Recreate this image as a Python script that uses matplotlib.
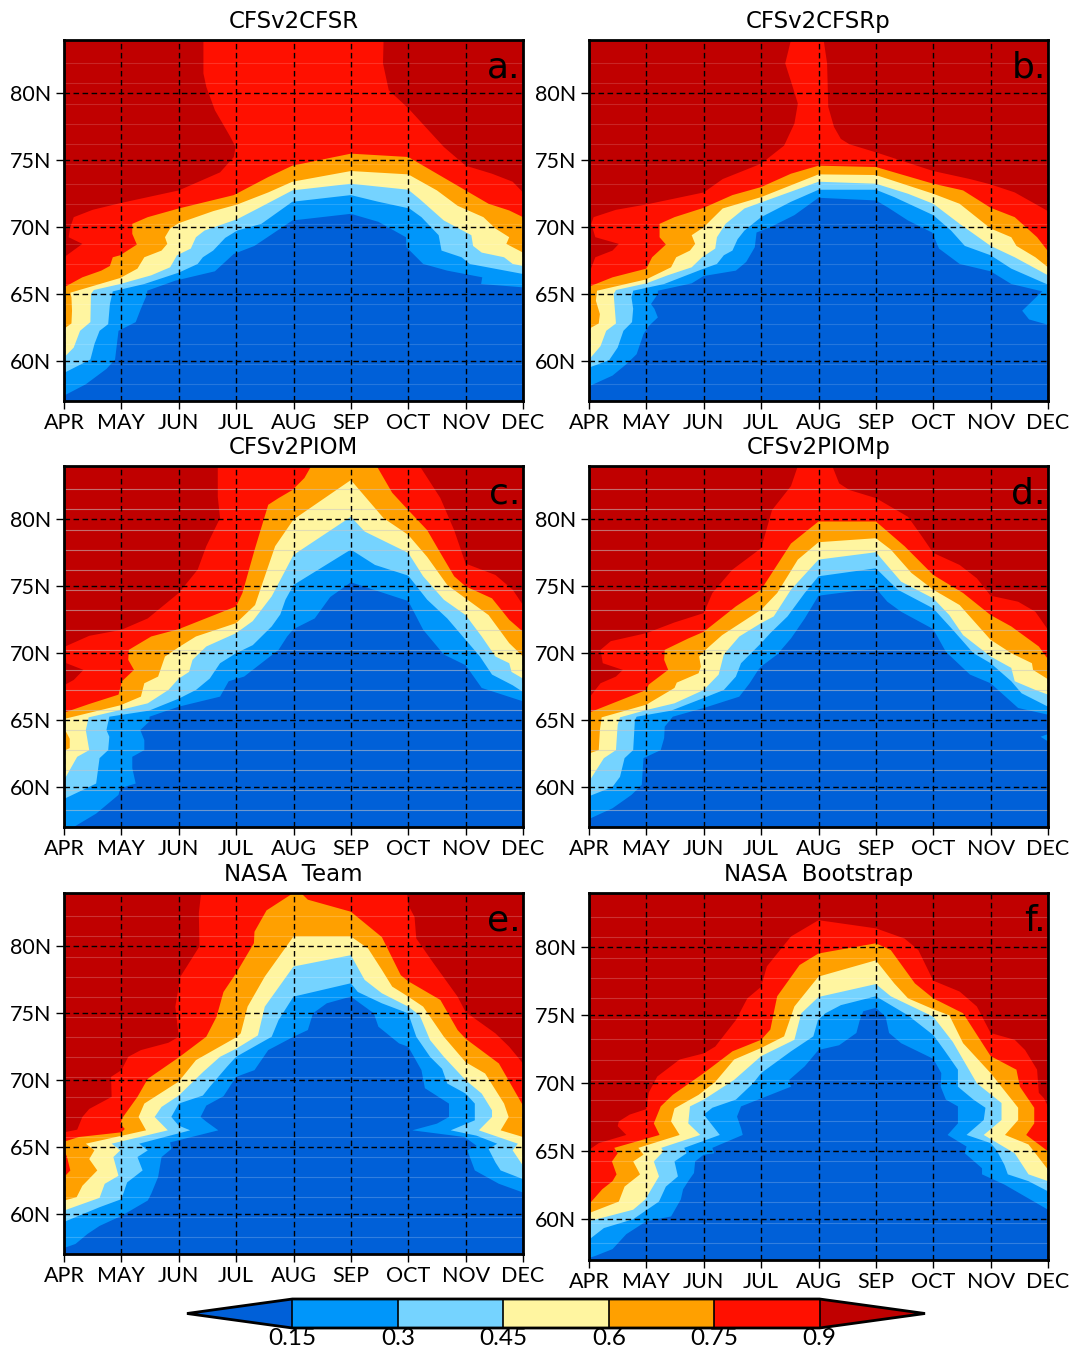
import matplotlib
matplotlib.use('Agg')
import matplotlib.pyplot as plt
from matplotlib.cm import ScalarMappable
from matplotlib.colors import ListedColormap, BoundaryNorm

# contour lines, as (month since APR, latitude)
# panel a
a_15 = [(0,57.4),(.38,58.25),(.74,59.4),(.89,60.1),(.95,62.25),(1.25,62.9),(1.34,63.9),(1.45,65),(1.45,65.25),(1.94,66),(2.63,66.7),(2.96,68),(3.32,68.6),(3.98,70.5),(5,71),(5.48,70.4),(5.96,69.25),(5.97,68.5),(6.26,67.25),(6.68,66.75),(7.29,66.25),(7.27,65.75),(8,65.5)]
a_30 = [(0,59.1),(.46,60.1),(.53,61.25),(.62,62.25),(.77,62.75),(.8,64.25),(.85,65.2),(1.4,65.75),(2,66.6),(2.33,67.25),(2.42,67.75),(2.6,68.25),(2.81,69.2),(3.02,69.75),(3.44,70.25),(3.98,71.9),(5,72.4),(5.48,71.9),(6.02,71.4),(6.23,70.75),(6.53,69.4),(6.58,68.25),(6.93,67.75),(7.07,67.25),(8,66.5)]
a_45 = [(0,60.25),(.17,61),(.28,62.25),(.46,62.9),(.47,65),(.52,65.3),(.98,65.75),(1.52,66.4),(1.85,67),(1.97,67.9),(2.21,68.4),(2.3,69.25),(2.45,69.75),(3.02,70.6),(3.38,71.4),(3.98,72.75),(5,73.25),(6,72.8),(6.2,72.1),(6.62,70.5),(7.1,69.4),(7.13,68.6),(7.28,68.1),(7.67,67.75),(7.82,67.25),(8,67.1)]
a_60 = [(0,62.4),(.13,62.8),(.14,63.75),(.13,64.75),(.11,65.1),(.98,66.2),(1.28,66.9),(1.4,67.75),(1.7,68.25),(1.8,68.75),(1.76,69.25),(1.85,69.9),(2,70.3),(2.6,71.2),(3.02,71.7),(3.56,72.6),(3.98,73.4),(5,74.2),(6,73.95),(6.5,72.75),(6.86,71.6),(7.31,70.75),(7.52,69.9),(7.76,69.25),(7.71,68.75),(8,68.1)]
a_75 = [(0,65.5),(.32,66.25),(.65,66.75),(.8,67.1),(.85,67.75),(.98,67.9),(1.27,68.7),(1.19,69.5),(1.19,70.25),(1.46,70.75),(2,71.4),(2.96,72.4),(3.56,73.75),(3.98,74.6),(5,75.5),(6,75.25),(7,72.75),(7.4,71.75),(7.76,71.25),(8,70.75)]
a_90_left = [(0,67.75),(.32,68.75),(.08,69.25),(.11,70),(.17,70.75),(.5,71.3),(.98,71.8),(2,72.75),(2.72,74.1),(2.96,75.25),(2.99,76),(2.9,76.75),(2.63,78.75),(2.48,80.5),(2.43,81.5),(2.43,84)]
a_90_right = [(5.57,84),(5.56,82.25),(5.66,80.25),(6,78.9),(6.62,76),(7,74.6),(7.46,74),(7.82,73.4),(8,72.6)]

# panel b
b_15 = [(0,58.1),(.41,58.9),(.65,59.75),(.83,60.5),(.95,62),(1.04,62.6),(1.2,63.25),(1.14,63.9),(1.08,64.25),(1.2,65),(1.2,65.25),(1.79,65.8),(2,66.35),(2.56,66.75),(2.74,67.4),(2.89,68.5),(2.92,69.6),(3.16,70),(3.58,70.9),(4,72.2),(5,72),(5.2,71.5),(5.56,70.5),(5.98,69.6),(6.1,68.4),(6.46,67.25),(7,66.7),(7.36,65.75),(7.9,65.2),(7.55,63.75),(7.67,63.1),(8,62.7)]
b_30 = [(0,59.5),(.35,60.05),(.5,61),(.6,62.25),(.75,62.9),(.77,63.9),(.74,64.75),(.77,65.25),(1.31,65.75),(2,66.9),(2.23,67.25),(2.35,67.9),(2.5,68.25),(2.59,69.1),(2.71,69.75),(3,70.75),(3.52,71.9),(4,72.8),(5,72.8),(5.32,72.25),(6,70.9),(6.31,69.75),(6.55,68.6),(7,67.9),(7.36,66.9),(8,65.7)]
b_45 = [(0,60.1),(.2,61.1),(.3,62.25),(.47,62.8),(.43,65),(.47,65.3),(1,65.8),(1.37,66.4),(1.79,67),(1.97,67.75),(2.2,68.4),(2.23,69.25),(2.38,70.25),(2.71,71.4),(3.16,72.1),(4,73.4),(5,73.25),(5.56,72.5),(6,71.75),(6.46,70.25),(7,68.6),(7.42,67.75),(8,66.4)]
b_60 = [(0,62.4),(.17,62.8),(.19,63.5),(.12,64.5),(.14,65.25),(1,66.1),(1.43,67),(1.52,67.75),(1.76,68.25),(1.85,68.75),(1.79,69.4),(2,70),(2.33,71.4),(3,72.25),(4,73.95),(5,73.9),(6,72.5),(6.46,71.75),(7,69.9),(7.36,69.25),(7.45,68.6),(7.78,67.75),(8,67)]
b_75 = [(0,65.55),(.41,66.25),(1,66.9),(1.1,67.75),(1.34,68.7),(1.23,69.25),(1.23,70.25),(1.49,70.75),(2,71.45),(2.5,72.4),(3,73),(3.52,74),(4,74.6),(5,74.5),(6,73.25),(6.52,72.75),(7,71.45),(7.42,70.75),(7.81,69.25),(8,68.2)]
b_90_left = [(0,66.5),(.11,67.75),(.41,68.25),(.52,68.75),(.11,69.25),(.04,70.25),(.08,70.75),(.47,71.3),(1,71.7),(2,72.6),(2.33,73.6),(3,74.75),(3.4,76.1),(3.58,77.75),(3.64,79.25),(3.55,80.5),(3.42,82.25),(3.52,84)]
b_90_right = [(4.09,84),(4.15,82.25),(4.17,79),(4.27,77.5),(4.39,76.6),(4.54,76.2),(5,75.6),(6,74.2),(6.64,73.6),(7,73.2),(7.42,72.6),(8,71.2)]

# panel c
c_15 = [(0,57),(.17,57),(.56,58),(.95,59.4),(.98,59.9),(1.25,60.25),(1.19,61.4),(1.19,62.25),(1.4,62.75),(1.4,63.5),(1.33,64.25),(1.49,64.9),(1.49,65.25),(2,66),(2.72,66.75),(2.87,67.9),(3.14,68.25),(3.74,70.25),(3.89,71.25),(4,71.8),(4.37,72.6),(4.64,74.2),(5,75.3),(6,73.9),(6.26,71.75),(6.62,69.9),(7,69.1),(7.28,67.4),(8,66.4)]
c_30 = [(0,59.1),(.44,60),(.56,60.25),(.62,62.15),(.77,62.75),(.79,63.75),(.74,64.25),(.79,65.25),(1.48,65.7),(2,66.6),(2.3,67.25),(2.54,68.1),(2.72,69.25),(3,70),(3.29,70.6),(3.62,72),(3.77,72.9),(3.86,74),(4,75.1),(5,77.75),(5.42,76.6),(6,75.8),(6.33,74),(6.68,72.6),(7,71),(7.25,69.75),(7.46,68.4),(7.82,67.6),(8,67.1)]
c_45 = [(0,60.5),(.23,62.25),(.44,62.75),(.38,64.25),(.43,65.2),(.98,65.75),(1.46,66.25),(1.82,67.25),(2,68.1),(2.18,68.6),(2.24,69.5),(2.48,70.5),(3,71.5),(3.29,72.4),(3.62,74.25),(4,77.35),(5,80.2),(5.24,79.1),(6,77.5),(6.26,75.75),(6.62,74),(7,72.85),(7.28,71.25),(7.52,69.75),(7.76,69.25),(7.8,68.6),(8,68.1)]
c_60 = [(0,62.7),(.1,62.9),(.1,63.6),(.02,64.25),(.02,65.1),(.98,66.1),(1.34,66.75),(1.4,67.75),(1.64,68.25),(1.7,69),(1.76,69.75),(2,70.45),(2.3,71.25),(3,72.25),(3.33,73.6),(3.44,75),(3.68,78),(4,80),(5,82.95),(5.57,80.1),(6,78.85),(6.33,77.2),(6.68,75.1),(7,74.1),(7.4,72.85),(7.76,70.75),(8,69.75)]
c_75_left = [(0,65.55),(.44,66.2),(.95,66.9),(1.01,67.9),(1.22,68.75),(1.12,69.5),(1.13,70.25),(1.52,71.25),(2,71.8),(3,73.5),(3.11,74.5),(3.32,77.7),(3.56,81.1),(3.74,81.6),(3.98,82.2),(4.19,83.1),(4.31,84)]
c_75_right = [(5.45,84),(5.72,82),(6,80.7),(6.33,79.2),(6.56,77.5),(6.8,75.75),(7,75),(7.46,74.1),(7.76,72.5),(8,71.6)]
c_90_left = [(0,67.6),(.17,68),(.34,68.75),(.04,69.25),(.02,70.5),(.44,71.3),(1,71.75),(1.46,72.6),(2,74.5),(2.33,76.25),(2.48,78),(2.72,80.1),(2.68,81.7),(2.68,84)]
c_90_right = [(6.2,84),(6.56,81.6),(6.8,79.2),(7,76.7),(7.52,75.85),(7.82,74.75),(8,73.6)]

# panel d
d_15 = [(0,57.6),(.41,58.4),(.74,59.4),(.92,60.15),(.95,62.15),(1.25,62.75),(1.31,63.65),(1.32,64.5),(1.46,65.25),(2,65.9),(2.62,66.75),(2.8,67.75),(2.95,68.75),(3,69),(3.28,69.9),(3.52,71.1),(3.76,72.6),(4,74.3),(5,74.85),(5.2,73.85),(5.44,73.1),(6,71.8),(6.22,70.1),(6.64,68.4),(7,67.75),(7.48,65.9),(8,65.4)]
d_15_pocket = [(8,63.95),(7.87,63.75),(8,63.4)]
d_30 = [(0,59.3),(.41,60),(.54,60.75),(.62,62.15),(.77,62.75),(.8,65),(.83,65.25),(1.43,65.7),(2,66.65),(2.35,67.25),(2.56,68.25),(2.65,69.25),(3,70.75),(3.16,71.5),(3.46,72.75),(3.76,74.5),(4,75.75),(5,76.35),(5.38,74.75),(6,73.35),(6.34,71.75),(6.7,70),(7,69.25),(7.36,67.9),(7.54,67),(8,66)]
d_45 = [(0,60.4),(.26,62.15),(.47,62.75),(.5,64.65),(.54,65.2),(1,65.75),(1.49,66.25),(2,67.25),(2.26,68.4),(2.35,69.9),(2.62,71.25),(3,72.25),(3.22,72.75),(3.52,74.75),(4,77),(5,77.55),(5.44,75.35),(6,74.1),(6.28,72.85),(6.52,71.35),(7,69.75),(7.36,68.9),(7.42,67.9),(7.78,67.25),(8,66.9)]
d_60 = [(0,62.5),(.17,62.75),(.19,64.25),(.22,65.2),(1,66.15),(1.49,67.4),(1.53,67.8),(1.91,68.5),(1.95,69),(1.92,69.75),(2.03,70.25),(2.32,71.35),(3,73.25),(3.28,74.5),(3.64,77),(4,78.3),(5,78.6),(5.26,77.75),(5.62,76),(6,74.75),(6.46,73.6),(7,71),(7.36,70),(7.72,69.25),(7.74,68.75),(8,68.05)]
d_75 = [(0,65.55),(.41,66.25),(1,67.25),(1.04,67.65),(1.38,68.75),(1.31,69.5),(1.32,70.25),(1.73,71.1),(2,71.6),(2.56,73.5),(3,74.75),(3.52,78.2),(4,79.85),(5,79.85),(5.5,78),(6,75.85),(6.52,74.5),(7,72.85),(7.36,72),(7.84,70.5),(8,69.55)]
d_90_left = [(0,66.65),(.2,67.75),(.47,68.25),(.59,68.75),(.24,69.25),(.2,70.25),(.38,70.9),(1,71.5),(1.49,72.3),(2,73),(2.15,74.5),(2.5,76.25),(3,77.85),(3.19,80.7),(3.52,82.5),(3.64,84)]
d_90_right = [(4.24,84),(4.36,82.7),(4.54,82.2),(5,81.6),(5.56,80.2),(5.8,78.75),(6,77.5),(6.46,76.6),(6.76,75.6),(7,74.3),(7.48,73.85),(7.78,73.1),(8,71.75)]

# panel e
e_15 = [(0,57.45),(.2,57.75),(.41,58.5),(.62,59.1),(1,59.85),(1.46,61),(1.52,61.5),(1.64,62.75),(1.7,64.25),(1.87,64.85),(1.85,65.35),(2.69,66.25),(2.48,66.9),(2.38,67.25),(2.48,68.1),(2.78,68.8),(3,70.25),(3.32,70.75),(3.56,72.25),(4,73.25),(4.25,73.75),(4.34,75),(4.58,75.75),(5,76.25),(5.4,75),(5.48,74),(5.84,72.75),(6,72.5),(6.23,70.75),(6.29,69.4),(6.71,68.25),(6.71,67.25),(6.5,66.75),(6.07,66.25),(6.98,65.75),(7.19,65.1),(7.03,64.75),(7.16,63.25),(7.58,62.25),(8,61.6)]
e_30 = [(0,59.4),(.62,60.5),(1,61.1),(1.1,62.35),(1.37,63.25),(1.28,64.25),(1.46,64.75),(1.31,65.25),(2.2,66.25),(2,66.6),(1.87,67.25),(2,68.25),(2.42,68.85),(2.54,69.5),(2.84,71),(3,71.75),(3.62,73.25),(3.74,74.5),(4,76.25),(5,77.25),(5.12,76.6),(5.54,75.75),(6,75),(6.14,73.25),(6.38,71.75),(6.59,70.85),(6.68,69.75),(7,69),(7.16,68.25),(7.16,67),(6.74,66.25),(7.19,65.85),(7.55,65.25),(7.4,64.85),(7.52,63.85),(7.61,63.25),(8,62.6)]
e_45 = [(0,60.25),(.62,61.2),(.71,62.25),(.95,62.85),(.86,64.25),(.98,64.75),(.83,65.25),(1.81,66.25),(1.58,67.25),(1.7,68),(2,68.85),(2.42,70.6),(2.72,71.75),(3,72.35),(3.38,73.35),(3.5,75.5),(4,78.5),(5,79.35),(5.24,77.5),(5.54,76.5),(6,75.5),(6.2,74.85),(6.38,73),(6.62,71.75),(7,70),(7.28,69),(7.46,67.75),(7.46,67.25),(7.23,66.25),(7.91,65.25),(7.82,64.75),(8,63.6)]
e_60 = [(0,61),(.22,61.25),(.32,62.1),(.58,63.25),(.44,64.1),(.53,64.75),(.38,65.25),(1.43,66.25),(1.3,67.25),(1.4,68.25),(2,69.9),(2.3,71.5),(3,73.2),(3.08,73.5),(3.2,75.5),(3.5,77.75),(4,80.75),(5,80.75),(5.3,79.85),(5.54,78.25),(5.72,77),(6,76.25),(6.26,75.5),(6.62,73.25),(7,71.35),(7.34,70.5),(7.67,68.25),(7.75,67.25),(7.61,66.25),(8,65.75)]
e_75 = [(0,65.4),(.26,65.75),(1,66.1),(1.06,66.35),(.98,66.75),(1.03,67.25),(1.28,68.75),(1.46,70.1),(2,71.7),(2.48,73.25),(2.66,74.75),(2.78,76.6),(3,78),(3.31,80.25),(3.32,81.1),(3.53,82.7),(3.89,83.7),(4,84),(4.13,84),(4.25,83.5),(5,82.6),(5.54,80.7),(5.87,77.85),(6,77.4),(6.56,76),(6.86,73.75),(7,73.1),(7.58,71.25),(8,68.1)]
e_75_pocket = [(0,64.75),(.05,64.3),(.11,63.25),(0,62.75)]
e_90_left = [(0,66.1),(.23,66.3),(.32,67.25),(.44,67.85),(.83,68.75),(.82,70.25),(1,70.75),(1.12,71.75),(1.34,72.25),(1.82,72.8),(2,73.25),(1.94,75.5),(2.03,77.75),(2.36,80),(2.35,82.5),(2.39,84)]
e_90_right = [(5.98,84),(6,83.1),(6.11,82.2),(6.14,80.6),(6.44,78.75),(6.86,76.25),(7,75.1),(7.52,73.5),(7.76,72.5),(8,71.25)]

# panel f
f_15 = [(0,57.15),(.11,57.3),(.41,57.8),(.65,58.9),(1,59.85),(1.43,60.2),(1.6,61.45),(1.64,62.2),(1.73,62.8),(1.83,63.4),(1.85,64.25),(2,64.75),(2.18,64.85),(2.15,65.25),(2.68,66.2),(2.65,66.7),(2.58,67.55),(2.65,68.3),(3.52,69.75),(3.49,70.25),(3.76,71.25),(4,72.45),(4.36,72.8),(4.66,73.7),(4.72,74.65),(4.78,75.3),(5,75.55),(5.17,74.9),(5.23,73.7),(5.44,72.95),(6,71.8),(6.14,70.75),(6.13,69.75),(6.22,68.8),(6.43,68.3),(6.43,67.05),(6.25,66.2),(6.58,65.35),(6.55,64.85),(6.85,63.75),(6.85,63.3),(7.24,62.55),(8,60.7)]
f_30 = [(0,58.5),(.26,59.35),(.77,60),(1.22,61.3),(1.34,62.4),(1.55,63.15),(1.49,64.25),(1.7,64.85),(1.66,65.25),(2.28,66.2),(2,67.7),(2.15,68.2),(2.56,68.8),(2.86,70),(3,70.75),(3.52,72.35),(3.91,73.45),(3.99,74.65),(4.12,75.15),(4.39,75.75),(5,76.4),(5.56,75),(6,73.55),(6.19,72.45),(6.43,71),(6.43,69.75),(6.7,68.8),(6.91,68.2),(6.88,67.3),(6.58,66.2),(7,65.6),(7.1,65.1),(7.24,64),(7.3,63.3),(7.66,62.8),(8,62.05)]
f_45 = [(0,59.85),(.77,60.7),(.98,61.45),(1.22,63.15),(1.13,64.25),(1.3,65),(1.26,65.25),(1.94,66.2),(1.73,67.05),(1.76,68.3),(2,68.8),(2.53,70.25),(3,72),(3.58,73.2),(3.7,75.15),(4,76.35),(5,77.3),(5.26,76.4),(6,74.9),(6.34,73.05),(6.76,70),(7.19,68.55),(7.19,67.3),(6.88,66.2),(7.42,64.85),(7.66,63.3),(8,62.8)]
f_60 = [(0,60.45),(.52,61.3),(.62,62.4),(.89,63.3),(.77,64.25),(.95,64.75),(.86,65.25),(1.58,66.2),(1.43,67.2),(1.49,68.15),(1.91,69.15),(2.2,70.1),(2.53,71.75),(3,72.6),(3.4,73.45),(3.58,75.65),(4,77.85),(5,79.05),(5.32,77.35),(5.56,76.25),(6,75.45),(6.28,75),(6.52,72.95),(7,70.75),(7.48,68.2),(7.48,67.3),(7.25,66.2),(7.66,65.5),(8,63.65)]
f_75 = [(0,61.1),(.23,62.2),(.41,62.8),(.48,63.3),(.4,64.25),(.5,64.85),(.44,65.25),(1.23,66.2),(1.13,67.05),(1.25,68.3),(1.46,69.15),(2,70.75),(2.5,72.35),(3,73.2),(3.16,73.95),(3.28,76.4),(3.67,78.7),(4,79.55),(5,80.3),(5.26,79.8),(5.68,77.35),(6,76.25),(6.52,75.15),(7,72),(7.45,71),(7.51,69.75),(7.76,68.2),(7.76,67.05),(7.62,66.2),(8,65)]
f_90 = [(0,65.1),(.17,65.6),(.65,66.2),(.5,66.85),(.52,67.2),(.71,67.7),(1,68.1),(1.04,69.3),(1.19,70.5),(1.58,71.75),(2,72.2),(2.2,72.7),(2.56,74.65),(2.76,76.25),(3,77.1),(3.1,78.6),(3.52,80.8),(4,82),(5,81.4),(5.5,80.65),(5.74,79.8),(6,77.55),(6.46,76.75),(6.76,75.65),(7,73.7),(7.42,73.2),(7.6,72.45),(7.81,71),(7.84,69.3),(7.93,68.9),(8,68.3)]

months = ['APR', 'MAY', 'JUN', 'JUL', 'AUG', 'SEP', 'OCT', 'NOV', 'DEC']
lat_ticks = [60, 65, 70, 75, 80]
lat_labels = ['60N', '65N', '70N', '75N', '80N']
levels = [0.15, 0.3, 0.45, 0.6, 0.75, 0.9]
level_labels = ['0.15', '0.3', '0.45', '0.6', '0.75', '0.9']
colors = ['#0060D8', '#0096FA', '#75D3FF', '#FFF5A0', '#FFA000', '#FF1000', '#C00000']
# pale lines left by the coarse latitude grid
grid_lats = [58.25, 59.75, 61.25, 62.75, 64.25, 65.75, 67.25, 68.75, 70.25, 71.75, 73.25, 74.75, 76.25, 77.75, 79.25, 80.75, 82.25]

W, H = 1069, 1351
TOP_LAT = 84
BOTTOM_LAT = 57

plt.rcParams['font.family'] = ['Lato', 'DejaVu Sans']
fig = plt.figure(figsize=(W / 100, H / 100), dpi=100)


def px_axes(left, top, right, bottom):
    return fig.add_axes([left / W, 1 - bottom / H, (right - left) / W, (bottom - top) / H])


def fill_above(ax, line, color):
    # region between a contour line and the top of the axes
    xs = [p[0] for p in line] + [line[-1][0], line[0][0]]
    ys = [p[1] for p in line] + [TOP_LAT + 1, TOP_LAT + 1]
    ax.fill(xs, ys, color=color, lw=0, zorder=1)


def draw_panel(box, title, letter, layers, line_color, line_alpha):
    ax = px_axes(*box)
    ax.set_facecolor(colors[0])
    for i, parts in enumerate(layers):
        for line in parts:
            fill_above(ax, line, colors[i + 1])
    for lat in grid_lats:
        ax.axhline(lat, color=line_color, lw=0.8, alpha=line_alpha, zorder=1.5)
    ax.set_xlim(0, 8)
    ax.set_ylim(BOTTOM_LAT, TOP_LAT)
    ax.set_xticks(range(9))
    ax.set_xticklabels(months)
    ax.set_yticks(lat_ticks)
    ax.set_yticklabels(lat_labels)
    ax.tick_params(length=6, width=1, labelsize=15.5)
    ax.tick_params(axis='x', pad=2.5)
    ax.tick_params(axis='y', pad=3)
    ax.grid(True, color='black', lw=1, linestyle=(0, (4, 2.5)))
    ax.set_axisbelow(False)
    for s in ax.spines.values():
        s.set_linewidth(2)
        s.set_zorder(10)
    ax.text(0.5, 1 + 7 / (box[3] - box[1]), title, transform=ax.transAxes, ha='center', va='bottom',
            fontsize=16.5, family=['DejaVu Sans'])
    ax.text(0.995, 0.897, letter, transform=ax.transAxes, ha='right', va='baseline',
            fontsize=26, family=['DejaVu Sans'], zorder=11)
    return ax


draw_panel((64, 40, 523, 401), 'CFSv2CFSR', 'a.',
           [[a_15], [a_30], [a_45], [a_60], [a_75], [a_90_left, a_90_right]], 'white', 0.15)
draw_panel((589, 40, 1048, 401), 'CFSv2CFSRp', 'b.',
           [[b_15], [b_30], [b_45], [b_60], [b_75], [b_90_left, b_90_right]], 'white', 0.15)
draw_panel((64, 466, 523, 827), 'CFSv2PIOM', 'c.',
           [[c_15], [c_30], [c_45], [c_60], [c_75_left, c_75_right], [c_90_left, c_90_right]], '#c8c8c8', 0.55)
draw_panel((589, 466, 1048, 827), 'CFSv2PIOMp', 'd.',
           [[d_15, d_15_pocket], [d_30], [d_45], [d_60], [d_75], [d_90_left, d_90_right]], '#c8c8c8', 0.55)
draw_panel((64, 893, 523, 1254), 'NASA  Team', 'e.',
           [[e_15], [e_30], [e_45], [e_60], [e_75, e_75_pocket], [e_90_left, e_90_right]], 'white', 0.2)
draw_panel((589, 893, 1048, 1260), 'NASA  Bootstrap', 'f.',
           [[f_15], [f_30], [f_45], [f_60], [f_75], [f_90]], 'white', 0.2)

# colour bar with the triangles at both ends
cax = px_axes(187, 1299, 925, 1328)
cmap = ListedColormap(colors[1:-1])
cmap.set_under(colors[0])
cmap.set_over(colors[-1])
sm = ScalarMappable(norm=BoundaryNorm(levels, cmap.N), cmap=cmap)
cb = fig.colorbar(sm, cax=cax, orientation='horizontal', extend='both', extendfrac=0.2,
                  drawedges=True, spacing='uniform', ticks=levels)
cb.ax.set_xticklabels(level_labels)
cb.ax.tick_params(length=0, labelsize=17.5, pad=0)
cb.outline.set_linewidth(2)
cb.dividers.set_color('black')
cb.dividers.set_linewidth(1.2)

fig.savefig('out.png', dpi=100)
